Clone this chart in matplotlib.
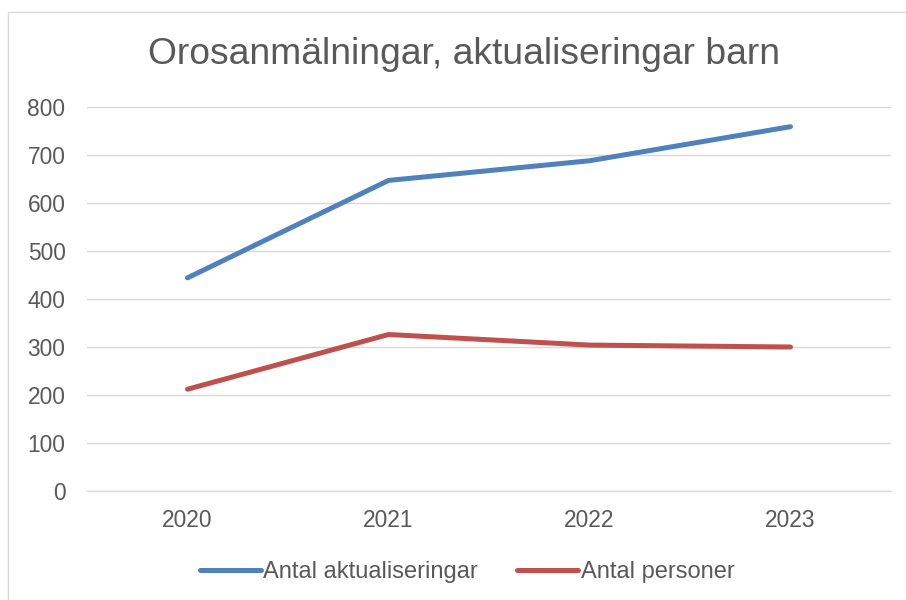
import matplotlib
matplotlib.use("Agg")
import matplotlib.pyplot as plt
from matplotlib.patches import Rectangle

years = ["2020", "2021", "2022", "2023"]
aktualiseringar = [444, 647, 688, 759]
personer = [212, 326, 304, 300]
yticks = [0, 100, 200, 300, 400, 500, 600, 700, 800]

plt.rcParams['font.family'] = ['Liberation Sans', 'DejaVu Sans']
TXT = '#595959'
W, H = 906, 600
fig = plt.figure(figsize=(W/100, H/100), dpi=100)

# outer chart border
fig.patches.append(Rectangle((7.5/W, -0.1), (W - 7.5 + 20)/W, (H - 11.5)/H + 0.1,
                             transform=fig.transFigure, fill=False,
                             edgecolor='#D9D9D9', linewidth=1.0))

left, right, top, bottom = 87, 891, 107, 491
ax = fig.add_axes([left/W, 1 - bottom/H, (right-left)/W, (bottom-top)/H])

x = list(range(len(years)))
ax.plot(x, aktualiseringar, color='#4F81BD', linewidth=3.6, solid_capstyle='round',
        solid_joinstyle='round', label='Antal aktualiseringar', zorder=3)
ax.plot(x, personer, color='#C0504D', linewidth=3.6, solid_capstyle='round',
        solid_joinstyle='round', label='Antal personer', zorder=3)

ax.set_xlim(-0.5, len(years) - 0.5)
ax.set_ylim(0, 800)
ax.set_yticks(yticks)
ax.set_yticklabels([str(v) for v in yticks])
ax.set_xticks(x)
ax.set_xticklabels(years)
ax.grid(axis='y', color='#D9D9D9', linewidth=1.0)
ax.set_axisbelow(True)
for s in ['top', 'right', 'left']:
    ax.spines[s].set_visible(False)
ax.spines['bottom'].set_color('#D9D9D9')
ax.spines['bottom'].set_linewidth(1.0)
ax.tick_params(axis='both', length=0, labelsize=16.4, labelcolor=TXT)
ax.tick_params(axis='y', pad=15.5)
ax.tick_params(axis='x', pad=13)

fig.text(463.5/W, 1 - 55/H, "Orosanmälningar, aktualiseringar barn", ha='center', va='center',
         fontsize=26.8, color=TXT)

leg = fig.legend(loc='center', bbox_to_anchor=(467/W, 1 - 572/H), ncol=2, frameon=False,
                 fontsize=17, handlelength=2.6, handletextpad=0.1, columnspacing=1.65)
for t in leg.get_texts():
    t.set_color(TXT)

fig.savefig("out.png", dpi=100)
